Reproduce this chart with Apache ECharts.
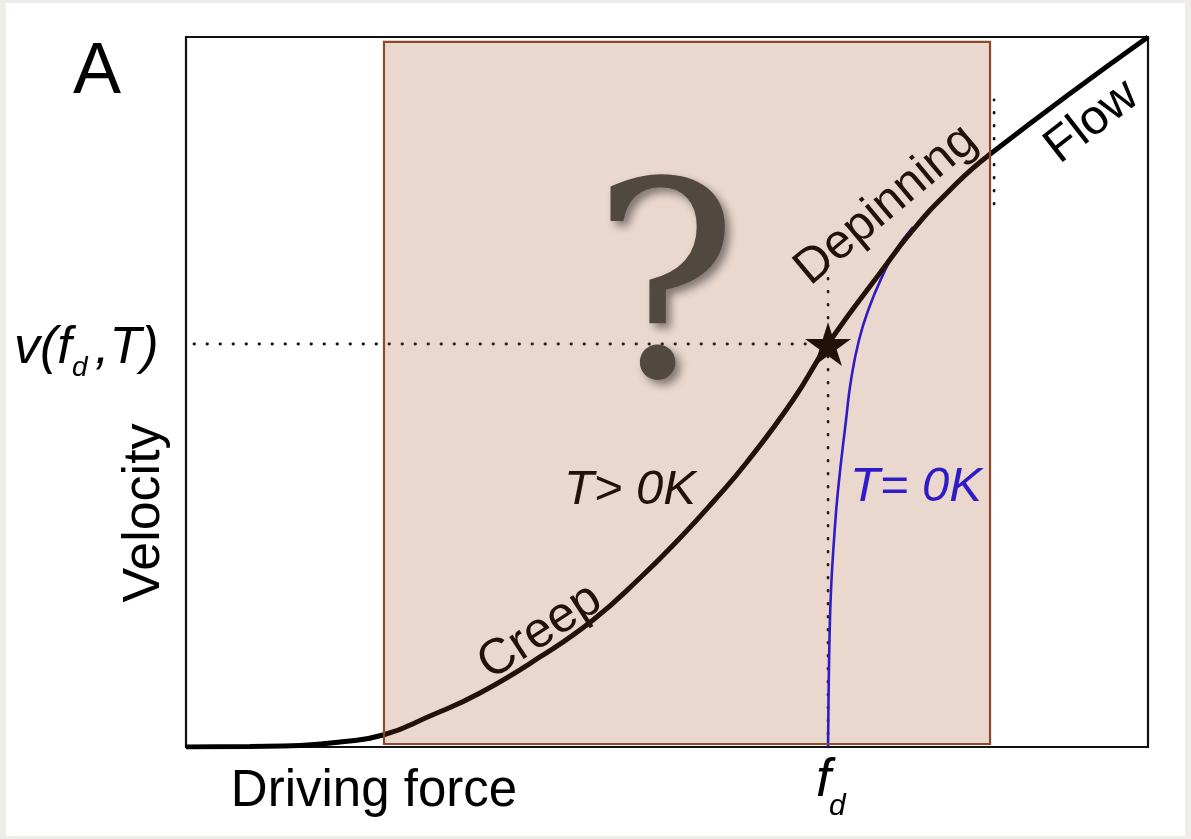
<!DOCTYPE html>
<html>
<head>
<meta charset="utf-8">
<script src="https://cdn.jsdelivr.net/npm/echarts@6/dist/echarts.min.js"></script>
<style>
  html, body { margin: 0; padding: 0; background: #eeede9; }
  #paper { position: absolute; left: 6px; top: 3px; width: 1179px; height: 833px; background: #ffffff; }
  #chart { position: absolute; left: 0; top: 0; width: 1191px; height: 839px; }
</style>
</head>
<body>
<div id="paper"></div>
<div id="chart"></div>
<script>
// Velocity–force curve of a driven elastic interface (schematic units, 0–100 on both axes)

// finite temperature curve: creep -> depinning -> flow
const forceT = [0, 6.65, 11.85, 16.01, 20.48, 25.36, 30.56, 36.80, 42.31, 47.19, 51.35, 54.78, 58.32, 63.10, 66.74, 72.14, 75.57, 79.11, 83.47, 100];
const velocityT = [0, 0.07, 0.21, 0.70, 1.69, 4.37, 7.61, 12.68, 17.89, 23.80, 29.44, 34.51, 40.14, 48.87, 56.76, 66.76, 72.82, 78.03, 83.38, 100];

// zero temperature curve: depinning above the threshold fd
const force0 = [66.74, 66.79, 66.89, 67.05, 67.36, 67.78, 68.61, 69.13, 69.96, 71.00, 72.35, 73.80, 75.57];
const velocity0 = [0, 6.62, 15.07, 22.11, 29.15, 36.20, 46.06, 51.69, 57.32, 61.83, 66.20, 70.00, 73.24];

// depinning threshold and the velocity reached there at T > 0
const fd = 66.74;
const vAtFd = 56.76;

// region of interest (force range, velocity range)
const regionForce = [20.58, 83.58];
const regionVelocity = [0.42, 99.3];

// boundary between depinning and flow
const flowStart = 84.0;
const flowMarkRange = [76.48, 91.13];

const zip = (xs, ys) => xs.map((x, i) => [x, ys[i]]);

const chart = echarts.init(document.getElementById('chart'), null, { renderer: 'canvas' });

const dotted = { color: '#111', width: 2.8, type: [0.5, 12.5], cap: 'round' };
const sans = 'Liberation Sans, Arial, sans-serif';

const option = {
  backgroundColor: 'transparent',
  animation: false,
  grid: { left: 186, top: 37, right: 43, bottom: 92, show: true, borderColor: '#111', borderWidth: 2.2, backgroundColor: 'transparent' },
  xAxis: { type: 'value', min: 0, max: 100, axisLine: { show: false }, axisTick: { show: false }, axisLabel: { show: false }, splitLine: { show: false } },
  yAxis: { type: 'value', min: 0, max: 100, axisLine: { show: false }, axisTick: { show: false }, axisLabel: { show: false }, splitLine: { show: false } },
  series: [
    {
      name: 'guide-v', type: 'line', z: 2, symbol: 'none', silent: true,
      data: [[0.83, vAtFd], [fd, vAtFd]], lineStyle: dotted
    },
    {
      name: 'guide-fd', type: 'line', z: 2, symbol: 'none', silent: true,
      data: [[fd, 0], [fd, 69.0]], lineStyle: dotted
    },
    {
      name: 'guide-flow', type: 'line', z: 2, symbol: 'none', silent: true,
      data: [[flowStart, flowMarkRange[0]], [flowStart, flowMarkRange[1]]], lineStyle: dotted
    },
    {
      name: 'T=0K', type: 'line', z: 2, symbol: 'none', smooth: 0.5,
      data: zip(force0, velocity0), lineStyle: { color: '#1010f4', width: 2.6 }
    },
    {
      name: 'T>0K', type: 'line', z: 2, symbol: 'none', smooth: 0.5,
      data: zip(forceT, velocityT), lineStyle: { color: '#000', width: 5 }
    },
    {
      name: 'star', type: 'scatter', z: 3, silent: true,
      symbol: 'path://M50,0 L61,35 L98,35 L68,57 L79,91 L50,70 L21,91 L32,57 L2,35 L39,35 Z',
      symbolSize: [46, 44], itemStyle: { color: '#000', opacity: 1 },
      data: [[fd, vAtFd]]
    },
    {
      name: 'regime labels', type: 'scatter', z: 3, silent: true, symbolSize: 0,
      itemStyle: { opacity: 1 },
      label: { show: true, position: 'inside', fontFamily: sans, fontSize: 49, color: '#000', opacity: 1, textBorderWidth: 0 },
      data: [
        { value: [46.15, 36.2], label: { formatter: 'T> 0K', fontStyle: 'italic' } },
        { value: [75.88, 36.62], label: { formatter: 'T= 0K', fontStyle: 'italic', color: '#1010f4' } },
        { value: [36.8, 16.2], label: { formatter: 'Creep', rotate: 33, fontSize: 50 } },
        { value: [72.77, 76.34], label: { formatter: 'Depinning', rotate: 40 } },
        { value: [94.18, 88.03], label: { formatter: 'Flow', rotate: 38 } }
      ]
    },
    {
      name: 'region', type: 'custom', z: 4, silent: true,
      data: [[regionForce[0], regionVelocity[0], regionForce[1], regionVelocity[1]]],
      renderItem: (params, api) => {
        const p0 = api.coord([api.value(0), api.value(3)]);
        const p1 = api.coord([api.value(2), api.value(1)]);
        return {
          type: 'rect',
          shape: { x: p0[0], y: p0[1], width: p1[0] - p0[0], height: p1[1] - p0[1] },
          style: { fill: 'rgba(160,73,32,0.22)', stroke: '#8b4a2a', lineWidth: 2.2 }
        };
      }
    },
    {
      name: 'question', type: 'scatter', z: 6, silent: true, symbolSize: 0,
      itemStyle: { opacity: 1 },
      label: {
        show: true, position: 'inside', formatter: '?', opacity: 1, textBorderWidth: 0,
        fontFamily: "'DejaVu Serif'", fontWeight: 'normal', fontSize: 272, color: '#514940',
        textShadowColor: 'rgba(0,0,0,0.45)', textShadowBlur: 8, textShadowOffsetX: 5, textShadowOffsetY: 5
      },
      data: [[49.79, 62.2]]
    }
  ]
};

chart.setOption(option);

// axis captions and the fd / v(fd,T) markers, placed from the scale
const pFd = chart.convertToPixel({ gridIndex: 0 }, [fd, 0]);
const pV = chart.convertToPixel({ gridIndex: 0 }, [0, vAtFd]);
const it = { fontFamily: sans, fontStyle: 'italic', fill: '#000', verticalAlign: 'middle', align: 'left' };

chart.setOption({
  graphic: [
    { type: 'text', left: 73, top: 37, style: { text: 'A', fontFamily: sans, fontSize: 72, fill: '#000' } },
    { type: 'text', x: 145, y: 513, rotation: Math.PI / 2, style: { text: 'Velocity', fontFamily: sans, fontSize: 52, fill: '#000', align: 'center', verticalAlign: 'middle' } },
    { type: 'text', x: 374, y: 792, style: { text: 'Driving force', fontFamily: sans, fontSize: 51, fill: '#000', align: 'center', verticalAlign: 'middle' } },
    { type: 'text', x: pFd[0] - 12, y: 781, style: Object.assign({ text: 'f', fontSize: 54 }, it) },
    { type: 'text', x: pFd[0] + 1, y: 807, style: Object.assign({ text: 'd', fontSize: 30 }, it) },
    { type: 'text', x: 14, y: pV[1] + 5, style: Object.assign({ text: 'v(f', fontSize: 52 }, it) },
    { type: 'text', x: 72, y: pV[1] + 24, style: Object.assign({ text: 'd', fontSize: 28 }, it) },
    { type: 'text', x: 95, y: pV[1] + 5, style: Object.assign({ text: ',T)', fontSize: 52 }, it) }
  ]
});
</script>
</body>
</html>
